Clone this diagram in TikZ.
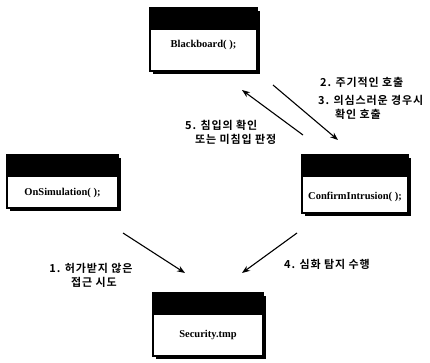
\documentclass[tikz,border=0pt]{standalone}
\usepackage{fontspec}
\setmainfont{Liberation Serif}
\newfontfamily\kor{Noto Sans CJK KR}[BoldFont={Noto Sans CJK KR Bold}, LetterSpace=8]
\usetikzlibrary{shadows,arrows.meta}
\begin{document}
\begin{tikzpicture}[x=1pt,y=-1pt,
  win/.style={draw=black, line width=1.2pt, fill=white, rectangle, inner sep=0pt,
    general shadow={fill=black, shadow xshift=2.5pt, shadow yshift=-2.5pt},
    path picture={\fill[black] (path picture bounding box.north west) rectangle ([yshift=-22pt]path picture bounding box.north east);}},
  wintext/.style={font=\fontsize{10.5}{12}\selectfont\bfseries},
  korlab/.style={font=\kor\bfseries\fontsize{11}{14}\selectfont, align=left, inner sep=0pt},
  arr/.style={line width=1.1pt, -{Stealth[length=8pt,width=6pt]}}
]
\useasboundingbox (0,0) rectangle (430,362);

\node[win, minimum width=107pt, minimum height=63pt] (bb) at (203.5,39.5) {};
\node[wintext] (bbt) at (203.5,45) {Blackboard( );};

\node[win, minimum width=111pt, minimum height=53pt] (os) at (62.5,181.5) {};
\node[wintext] (ost) at (62.5,193) {OnSimulation( );};

\node[win, minimum width=106pt, minimum height=58pt] (ci) at (355,184) {};
\node[wintext, inner sep=0pt] (cit) at (355,197) {ConfirmIntrusion( );};

\node[win, minimum width=110pt, minimum height=63pt] (st) at (208,324.5) {};
\node[wintext] (stt) at (208,335) {Security.tmp};

\coordinate (a5s) at (303,135);
\coordinate (a5e) at (242,90);
\coordinate (a2s) at (273,85);
\coordinate (a2e) at (338,140);
\coordinate (a1s) at (123,233);
\coordinate (a1e) at (185,273);
\coordinate (a4s) at (297,233);
\coordinate (a4e) at (242,273);

\draw[arr] (a5s) -- (a5e);
\draw[arr] (a2s) -- (a2e);
\draw[arr] (a1s) -- (a1e);
\draw[arr] (a4s) -- (a4e);

\node[korlab, anchor=west] (l2) at (320,82) {2. 주기적인 호출};
\node[korlab, anchor=north west] (l3) at (318,95) {3. 의심스러운 경우시\\\hspace*{17pt}확인 호출};
\node[korlab, anchor=north west] (l5) at (185,120) {5. 침입의 확인\\\hspace*{10pt}또는 미침입 판정};
\node[korlab, anchor=north, align=center] (l1) at (91,263) {1. 허가받지 않은\\\hspace*{6pt}접근 시도};
\node[korlab, anchor=west] (l4) at (284,264) {4. 심화 탐지 수행};
\end{tikzpicture}
\end{document}
